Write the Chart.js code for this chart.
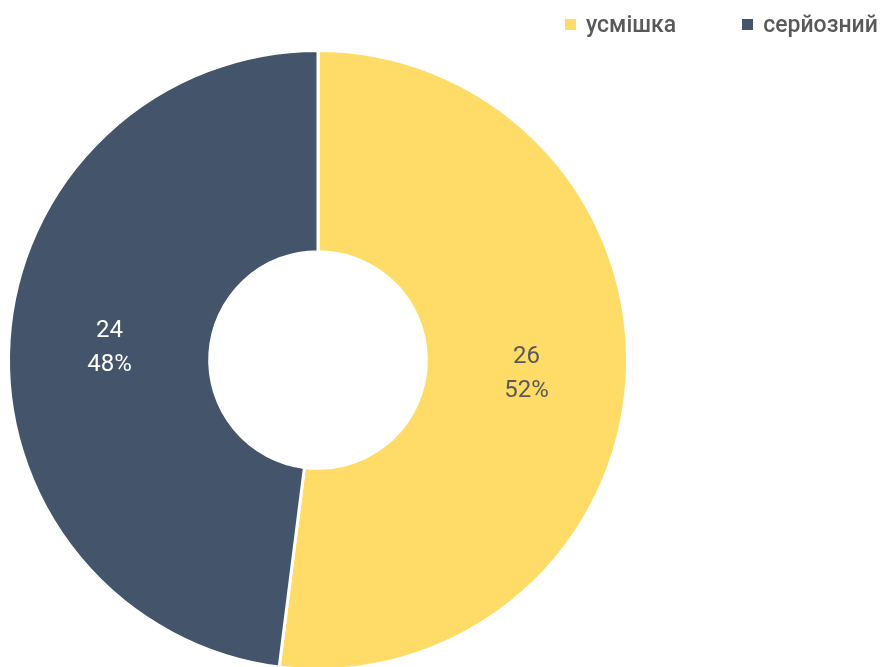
<!DOCTYPE html>
<html>
<head>
<meta charset="utf-8">
<script src="https://cdn.jsdelivr.net/npm/chart.js@4"></script>
<style>
  html, body { margin: 0; padding: 0; background: #fff; overflow: hidden; }
  #wrap { position: relative; width: 881px; height: 680px; }
  .legend { position: absolute; top: 11px; left: 565px; display: flex; font-family: 'Roboto', sans-serif; font-weight: 500; font-size: 23px; color: #595959; }
  .legend span.item { display: flex; align-items: center; }
  .legend span.box { display: inline-block; width: 11px; height: 11px; margin-right: 10px; }
</style>
</head>
<body>
<div id="wrap">
  <canvas id="c" width="881" height="680"></canvas>
  <div class="legend" id="legend"></div>
</div>
<script>
const labels = ['усмішка', 'серйозний'];
const counts = [26, 24];
const colors = ['#FFDC68', '#44546A'];
const labelColors = ['#595959', '#FFFFFF'];

const FONT = "'Roboto', sans-serif";
const total = counts.reduce((a, b) => a + b, 0);

// legend in html, laid out like the original
const legendEl = document.getElementById('legend');
labels.forEach((name, i) => {
  const item = document.createElement('span');
  item.className = 'item';
  item.style.marginRight = i === 0 ? '66px' : '0';
  item.innerHTML = `<span class="box" style="background:${colors[i]}"></span>${name}`;
  legendEl.appendChild(item);
});

const sliceLabels = {
  id: 'sliceLabels',
  afterDatasetsDraw(chart) {
    const ctx = chart.ctx;
    const meta = chart.getDatasetMeta(0);
    ctx.save();
    ctx.font = `24px ${FONT}`;
    ctx.textAlign = 'center';
    ctx.textBaseline = 'middle';
    meta.data.forEach((arc, i) => {
      const p = arc.getCenterPoint();
      const pct = Math.round(counts[i] / total * 100) + '%';
      ctx.fillStyle = labelColors[i];
      ctx.fillText(String(counts[i]), p.x, p.y - 16);
      ctx.fillText(pct, p.x, p.y + 18);
    });
    ctx.restore();
  }
};

new Chart(document.getElementById('c'), {
  type: 'doughnut',
  data: {
    labels: labels,
    datasets: [{
      data: counts,
      backgroundColor: colors,
      borderColor: '#FFFFFF',
      borderWidth: 3
    }]
  },
  options: {
    responsive: false,
    animation: false,
    cutout: '35%',
    layout: { padding: { top: 49, left: 7, right: 252, bottom: 9 } },
    plugins: {
      legend: { display: false },
      tooltip: { enabled: false }
    }
  },
  plugins: [sliceLabels]
});
</script>
</body>
</html>
